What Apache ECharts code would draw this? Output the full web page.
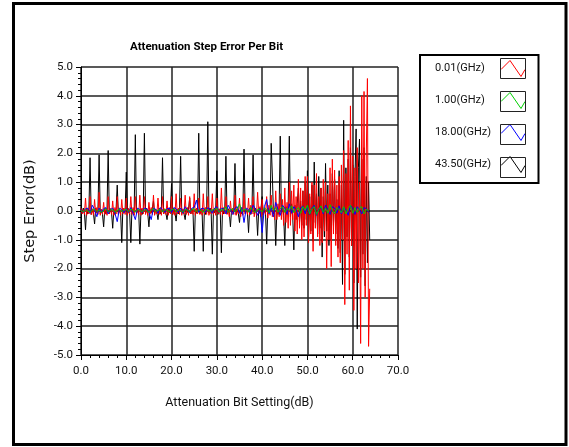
<!DOCTYPE html>
<html><head><meta charset="utf-8">
<script src="https://cdn.jsdelivr.net/npm/echarts@6/dist/echarts.min.js"></script>
<style>html,body{margin:0;padding:0;background:#fff;}#c{width:569px;height:447px;}</style>
</head><body><div id="c"></div>
<script>
// ---- data ----
const seriesNames = ['0.01(GHz)', '1.00(GHz)', '18.00(GHz)', '43.50(GHz)'];
const xTicks = ['0.0','10.0','20.0','30.0','40.0','50.0','60.0','70.0'];
const stepFine = 0.25;   // attenuation step of red / black traces (dB)
const stepCoarse = 0.5;  // attenuation step of green / blue traces (dB)

const red001 = [
 0.1,-0.1,0.05,-0.12, 0.45,-0.15,0.1,-0.1, 0.5,-0.12,0.08,-0.15, 0.4,-0.1,0.12,-0.12,
 0.65,-0.15,0.05,-0.1, 0.3,-0.12,0.1,-0.15, 0.5,-0.1,0.08,-0.12, 0.35,-0.15,0.12,-0.1,
 0.5,-0.12,0.05,-0.15, 0.4,-0.1,0.1,-0.12, 0.45,-0.15,0.08,-0.1, 0.5,-0.12,0.12,-0.15,
 0.5,-0.1,0.05,-0.12, 0.55,-0.15,0.1,-0.1, 0.5,-0.12,0.08,-0.15, 0.3,-0.1,0.12,-0.12,
 0.55,-0.15,0.05,-0.1, 0.45,-0.12,0.1,-0.15, 0.5,-0.1,0.08,-0.12, 0.35,-0.15,0.12,-0.1,
 0.5,-0.12,0.05,-0.15, 0.6,-0.1,0.1,-0.12, 0.45,-0.15,0.08,-0.1, 0.55,-0.12,0.12,-0.15,
 0.5,-0.1,0.05,-0.12, 0.6,-0.15,0.1,-0.1, 0.45,-0.12,0.08,-0.15, 0.6,-0.1,0.12,-0.12,
 0.5,-0.15,0.05,-0.1, 0.6,-0.12,0.1,-0.15, 0.45,-0.1,0.08,-0.12, 0.8,-0.15,0.12,-0.1,
 0.5,-0.12,0.05,-0.2, 0.35,-0.1,0.1,-0.12, 0.55,-0.15,0.08,-0.1, 0.45,-0.2,0.12,-0.15,
 0.6,-0.1,0.05,-0.12, 0.45,-0.15,0.2,-0.1, 0.5,-0.2,0.08,-0.15, 0.65,-0.1,0.15,-0.2,
 0.4,-0.15,0.1,-0.12, 0.5,-0.25,0.2,-0.15, 0.55,-0.2,0.15,-0.3, 0.7,-0.3,0.25,-0.2,
 0.6,-0.3,0.4,-0.5, 0.8,-0.4,0.3,-0.6, 1.0,-0.5,0.7,-0.3, 0.9,-0.7,0.5,-0.8,
 1.1,-0.6,0.8,-1.0, 0.7,-0.9,1.2,-0.5, 1.2,-1.1,0.6,-0.8, 1.0,-1.4,0.9,-0.6,
 1.3,-0.9,0.5,-1.2, 0.8,-1.1,1.1,-0.7, 1.0,-2.0,0.6,-1.0, 1.5,-1.93,1.8,-0.8,
 1.42,-1.2,0.9,-1.6, 1.2,-1.8,1.6,-1.0, 2.1,-3.25,1.3,-1.5, 2.45,-2.75,3.65,-1.2,
 1.9,-3.45,1.5,-2.0, 2.2,-2.5,1.0,-4.6, 4.0,-2.0,4.15,-3.0, 2.0,4.6,-4.7,-2.7
];

const black4350 = [
 0.05,-0.08,0.1,-0.05, -0.65,0.08,-0.1,0.05, 1.85,-0.12,0.06,-0.08, -0.45,0.1,-0.06,0.04,
 1.95,-0.1,0.05,-0.12, -0.55,0.08,-0.1,0.06, 2.1,-0.1,0.08,-0.06, -0.6,0.05,-0.12,0.08,
 0.9,-0.1,0.06,-0.08, -1.1,0.1,-0.05,0.05, 1.35,-0.12,0.08,-0.1, -1.1,0.06,-0.08,0.1,
 2.65,-0.1,0.05,-0.06, -1.15,0.08,-0.12,0.05, 2.7,-0.08,0.1,-0.1, -0.55,0.05,-0.06,0.08,
 0.35,-0.12,0.06,-0.05, -0.3,0.1,-0.1,0.06, 1.85,-0.1,0.05,-0.08, -0.3,0.08,-0.06,0.1,
 0.95,-0.12,0.1,-0.05, -0.35,0.06,-0.1,0.08, 1.9,-0.08,0.05,-0.1, -0.3,0.1,-0.05,0.06,
 0.45,-0.1,0.08,-0.12, -1.4,0.05,-0.08,0.1, 2.7,-0.1,0.06,-0.06, -1.4,0.08,-0.12,0.05,
 3.1,-0.08,0.1,-0.1, -1.5,0.06,-0.06,0.08, 1.4,-0.12,0.05,-0.05, -1.45,0.1,-0.1,0.06,
 1.9,-0.1,0.08,-0.08, -0.55,0.05,-0.05,0.1, 1.65,-0.12,0.06,-0.1, -0.4,0.08,-0.1,0.05,
 2.15,-0.08,0.05,-0.06, -0.75,0.1,-0.12,0.08, 1.95,-0.1,0.1,-0.05, -0.85,0.06,-0.08,0.1,
 0.5,-0.12,0.05,-0.1, -1.15,0.1,-0.06,0.06, 2.35,1.25,-0.1,0.08, -1.2,0.05,-0.12,0.1,
 2.6,-0.1,0.2,-0.15, -1.2,0.15,-0.1,0.2, 2.6,-0.2,0.25,-0.15, -1.35,0.2,-0.3,0.25,
 0.8,-0.4,0.35,-0.5, 0.7,-0.6,1.0,-0.3, 1.4,-0.9,0.5,-0.7, 0.9,-1.05,1.7,-0.4,
 0.6,-0.8,1.2,-0.6, 0.8,-1.6,0.5,-0.9, 1.65,-0.7,0.9,-1.2, 0.6,-1.0,1.3,-0.5,
 1.1,-0.8,0.4,-1.3, 1.4,-1.45,0.9,-2.55, 3.15,-2.2,1.5,-0.9, 1.8,-1.6,2.2,-1.2,
 1.6,-2.5,1.2,2.85, -4.1,1.5,2.5,-2.3, 1.8,-1.5,2.2,-2.6, 1.2,-1.8,1.0,-1.0
];

const green100 = [
 0.02,-0.03,0.05,0,-0.04,0.03,0.06,-0.02,0.04,-0.05,0.02,0.08,-0.03,0.03,0.05,-0.04,0.02,0.06,-0.03,0.04,
 0.05,-0.02,0.07,0.02,-0.04,0.05,0.03,-0.03,0.06,0.02,-0.05,0.04,0.08,-0.02,0.03,0.05,-0.04,0.06,0.02,-0.03,
 0.04,0.07,-0.03,0.05,0.02,-0.04,0.06,0.03,-0.02,0.05,0.08,-0.03,0.04,0.02,-0.05,0.06,0.03,-0.02,0.05,0.04,
 0.1,-0.04,0.06,0.02,0.15,-0.05,0.04,0.08,-0.03,0.05,0.25,-0.02,0.06,0.03,-0.04,0.12,0.02,-0.05,0.07,0.04,
 -0.03,0.1,0.05,-0.06,0.2,0.02,0.12,-0.04,0.08,0.15,-0.05,0.1,0.02,0.18,-0.06,0.05,0.12,-0.08,0.15,0.02,
 0.2,-0.1,0.08,0.15,-0.12,0.05,0.18,-0.05,0.1,-0.08,0.22,0.02,-0.1,0.12,0.05,-0.06,0.15,-0.1,0.08,0.2,
 -0.08,0.12,-0.05,0.1,0.15,-0.1,0.05,0.02
];

const blue1800 = [
 0.05,-0.05,0.08,0.1,-0.08,0.2,0.05,-0.2,0.1,-0.05,0.08,0.12,-0.1,0.05,0.1,-0.08,-0.37,0.1,0.05,-0.06,
 0.08,-0.05,0.12,-0.08,-0.3,0.1,0.05,-0.06,0.1,0.08,-0.05,-0.3,0.1,0.06,-0.08,0.12,0.05,-0.05,0.08,0.1,
 -0.06,0.12,0.08,-0.05,0.1,-0.08,0.15,0.05,-0.06,0.1,0.12,0.38,-0.05,0.08,0.1,-0.06,0.12,0.05,-0.08,0.1,
 0.15,-0.05,0.1,0.08,-0.1,0.2,0.05,-0.12,0.1,0.15,-0.08,0.12,-0.4,0.1,0.05,-0.1,0.2,0.08,-0.15,0.1,
 -0.75,0.15,0.4,-0.1,0.12,-0.2,0.3,0.05,-0.15,0.2,0.1,-0.12,0.25,-0.08,0.15,0.05,-0.2,0.1,0.18,-0.1,
 0.15,-0.12,0.1,0.2,-0.15,0.08,0.12,-0.1,0.2,0.05,-0.12,0.15,0.1,-0.08,0.18,-0.1,0.12,0.05,-0.15,0.2,
 0.1,-0.12,0.15,0.05,-0.1,0.12,0.08,-0.05
];

const colors = ['#ff0000', '#00d000', '#0000ff', '#000000'];

function pairs(arr, step) { return arr.map((v, i) => [i * step, v]); }

const FONT = "Roboto, 'Liberation Sans', Arial, sans-serif";
const zig = 'path://M0,10 L9,1 L20,17 L24,10';

const chart = echarts.init(document.getElementById('c'), null, {renderer: 'canvas'});
const lg = {left: 420, top: 55, itemW: 24, itemH: 18, gap: 15, iconX: 501};

const option = {
  animation: false,
  backgroundColor: '#ffffff',
  title: {
    text: 'Attenuation Step Error Per Bit',
    left: 125, top: 36,
    textStyle: {fontFamily: FONT, fontSize: 11.5, fontWeight: 'bold', color: '#000'}
  },
  grid: {left: 81, right: 171, top: 67, bottom: 92, containLabel: false},
  legend: {
    orient: 'vertical', left: lg.left, top: lg.top, align: 'right',
    padding: [5, 13, 10, 15],
    borderColor: '#000', borderWidth: 2,
    itemWidth: lg.itemW, itemHeight: lg.itemH, itemGap: lg.gap,
    selectedMode: false,
    formatter: n => '{a|' + n + '}',
    textStyle: {fontFamily: FONT, fontSize: 11, color: '#111',
      rich: {a: {width: 61, align: 'left', fontFamily: FONT, fontSize: 11, color: '#111'}}},
    data: seriesNames.map((n, i) => ({
      name: n, icon: zig,
      itemStyle: {color: 'rgba(0,0,0,0)', borderColor: colors[i], borderWidth: 1}
    }))
  },
  xAxis: {
    type: 'value', min: 0, max: 70, interval: 10,
    name: 'Attenuation Bit Setting(dB)', nameLocation: 'middle', nameGap: 41,
    nameTextStyle: {fontFamily: FONT, fontSize: 12.5, color: '#111'},
    axisLine: {show: true, onZero: false, lineStyle: {color: '#000', width: 1}},
    axisTick: {show: true, length: 5, lineStyle: {color: '#000'}},
    minorTick: {show: true, splitNumber: 5, length: 3, lineStyle: {color: '#000'}},
    axisLabel: {fontFamily: FONT, fontSize: 11.5, color: '#111', margin: 10,
      formatter: v => xTicks[Math.round(v / 10)] || v.toFixed(1)},
    splitLine: {show: true, lineStyle: {color: '#222', width: 1.5}}
  },
  yAxis: {
    type: 'value', min: -5, max: 5, interval: 1,
    name: 'Step Error(dB)', nameLocation: 'middle', nameGap: 43,
    nameTextStyle: {fontFamily: "'DejaVu Sans', sans-serif", fontSize: 14.5, color: '#111'},
    axisLine: {show: true, onZero: false, lineStyle: {color: '#000', width: 1}},
    axisTick: {show: true, length: 5, lineStyle: {color: '#000'}},
    minorTick: {show: true, splitNumber: 5, length: 3, lineStyle: {color: '#000'}},
    axisLabel: {fontFamily: FONT, fontSize: 11.5, color: '#111', margin: 8,
      formatter: v => v.toFixed(1)},
    splitLine: {show: true, lineStyle: {color: '#222', width: 1.5}}
  },
  series: [
    {name: seriesNames[3], type: 'line', data: pairs(black4350, stepFine), showSymbol: false, symbol: 'none',
     color: colors[3], lineStyle: {width: 1, color: colors[3]}, z: 2},
    {name: seriesNames[0], type: 'line', data: pairs(red001, stepFine), showSymbol: false, symbol: 'none',
     color: colors[0], lineStyle: {width: 1, color: colors[0]}, z: 3},
    {name: seriesNames[2], type: 'line', data: pairs(blue1800, stepCoarse), showSymbol: false, symbol: 'none',
     color: colors[2], lineStyle: {width: 1, color: colors[2]}, z: 4},
    {name: seriesNames[1], type: 'line', data: pairs(green100, stepCoarse), showSymbol: false, symbol: 'none',
     color: colors[1], lineStyle: {width: 1, color: colors[1]}, z: 5}
  ],
  graphic: [
    {type: 'rect', silent: true, z: 100,
     shape: {x: 13.5, y: 3.5, width: 552.5, height: 441},
     style: {fill: 'none', stroke: '#000', lineWidth: 3}}
  ].concat(seriesNames.map((n, i) => ({
    type: 'rect', silent: true, z: 100,
    shape: {x: lg.iconX - 0.5, y: lg.top + 5 - 1.5 + i * (lg.itemH + lg.gap), width: lg.itemW + 1, height: lg.itemH + 2},
    style: {fill: 'none', stroke: '#222', lineWidth: 1}
  })))
};
chart.setOption(option);
</script></body></html>
